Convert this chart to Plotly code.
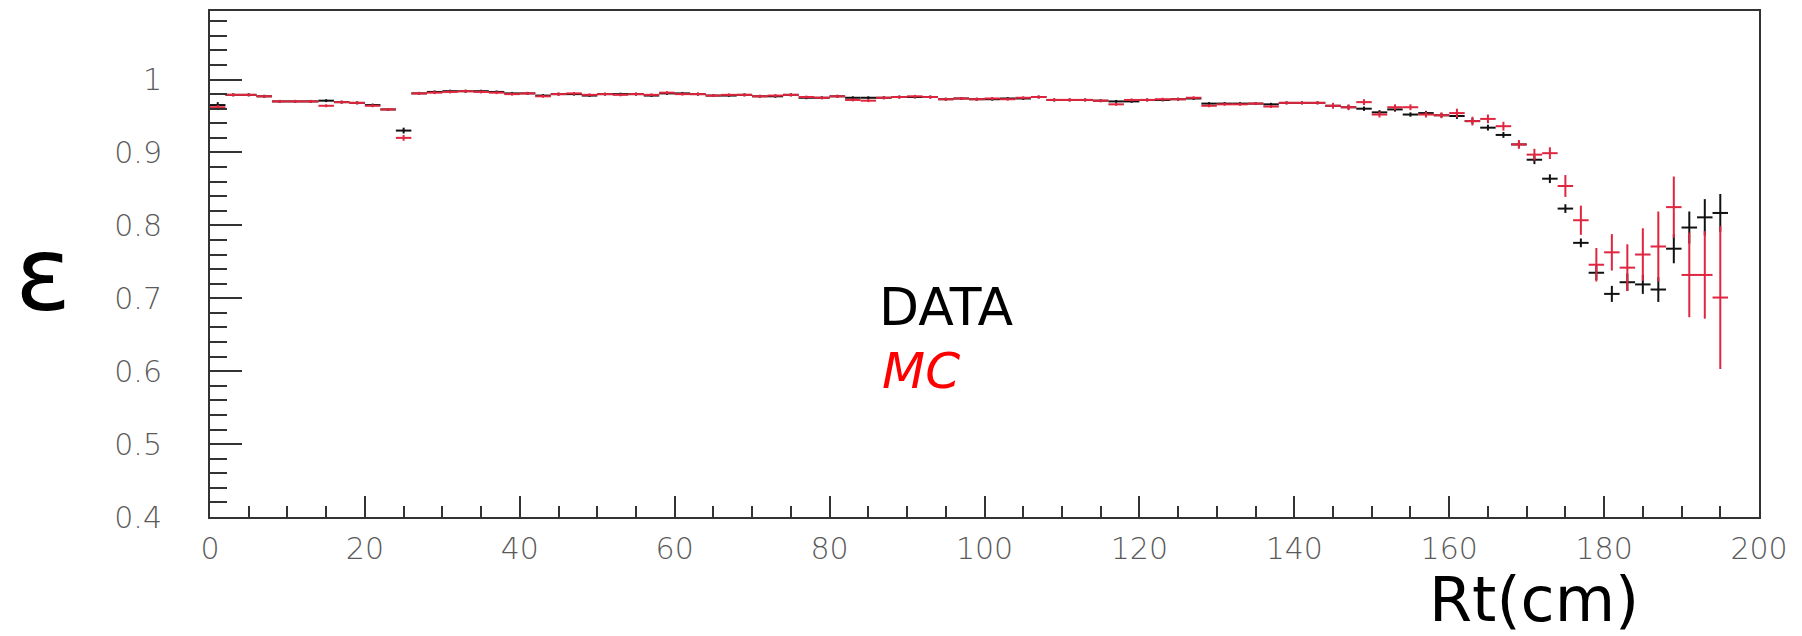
import plotly.graph_objects as go

# Bin centres of the Rt histogram (2 cm bins from 0 to 196 cm)
rt_centers = [1, 3, 5, 7, 9, 11, 13, 15, 17, 19, 21, 23, 25, 27, 29, 31, 33, 35, 37, 39,
              41, 43, 45, 47, 49, 51, 53, 55, 57, 59, 61, 63, 65, 67, 69, 71, 73, 75, 77, 79,
              81, 83, 85, 87, 89, 91, 93, 95, 97, 99, 101, 103, 105, 107, 109, 111, 113, 115, 117, 119,
              121, 123, 125, 127, 129, 131, 133, 135, 137, 139, 141, 143, 145, 147, 149, 151, 153, 155, 157, 159,
              161, 163, 165, 167, 169, 171, 173, 175, 177, 179, 181, 183, 185, 187, 189, 191, 193, 195]
bin_half_width = 1.0

# Efficiency measured in data
eff_data = [0.965, 0.979, 0.979, 0.977, 0.970, 0.970, 0.970, 0.971, 0.969, 0.968,
            0.965, 0.959, 0.930, 0.981, 0.983, 0.984, 0.984, 0.984, 0.983, 0.981,
            0.981, 0.978, 0.980, 0.980, 0.978, 0.980, 0.980, 0.980, 0.978, 0.981,
            0.981, 0.980, 0.978, 0.978, 0.979, 0.977, 0.977, 0.979, 0.975, 0.975,
            0.977, 0.975, 0.975, 0.975, 0.976, 0.976, 0.976, 0.973, 0.974, 0.973,
            0.973, 0.974, 0.974, 0.976, 0.972, 0.972, 0.972, 0.971, 0.970, 0.970,
            0.972, 0.972, 0.973, 0.974, 0.967, 0.967, 0.967, 0.967, 0.966, 0.968,
            0.968, 0.968, 0.964, 0.962, 0.960, 0.955, 0.959, 0.952, 0.954, 0.951,
            0.950, 0.943, 0.934, 0.924, 0.911, 0.890, 0.864, 0.823, 0.776, 0.735,
            0.706, 0.722, 0.719, 0.712, 0.768, 0.797, 0.811, 0.817]
err_data = [0.004, 0.002, 0.002, 0.002, 0.002, 0.002, 0.002, 0.002, 0.002, 0.002,
            0.002, 0.002, 0.004, 0.002, 0.002, 0.002, 0.002, 0.002, 0.002, 0.002,
            0.002, 0.002, 0.002, 0.002, 0.002, 0.002, 0.002, 0.002, 0.002, 0.002,
            0.002, 0.002, 0.002, 0.002, 0.002, 0.002, 0.002, 0.002, 0.002, 0.002,
            0.002, 0.002, 0.002, 0.002, 0.002, 0.002, 0.002, 0.002, 0.002, 0.002,
            0.002, 0.002, 0.002, 0.002, 0.002, 0.002, 0.002, 0.002, 0.002, 0.002,
            0.002, 0.002, 0.002, 0.002, 0.002, 0.002, 0.002, 0.002, 0.002, 0.002,
            0.002, 0.002, 0.003, 0.003, 0.003, 0.003, 0.003, 0.003, 0.003, 0.003,
            0.004, 0.004, 0.004, 0.004, 0.004, 0.006, 0.006, 0.006, 0.006, 0.010,
            0.011, 0.012, 0.013, 0.017, 0.020, 0.022, 0.025, 0.026]

# Efficiency from Monte Carlo simulation
eff_mc = [0.962, 0.979, 0.979, 0.977, 0.970, 0.970, 0.970, 0.964, 0.969, 0.968,
          0.964, 0.959, 0.920, 0.981, 0.982, 0.983, 0.984, 0.983, 0.982, 0.980,
          0.981, 0.977, 0.980, 0.981, 0.979, 0.980, 0.979, 0.980, 0.979, 0.982,
          0.980, 0.980, 0.978, 0.979, 0.979, 0.977, 0.978, 0.979, 0.976, 0.975,
          0.977, 0.972, 0.971, 0.975, 0.976, 0.977, 0.976, 0.973, 0.974, 0.973,
          0.974, 0.973, 0.975, 0.976, 0.972, 0.972, 0.972, 0.971, 0.966, 0.972,
          0.972, 0.973, 0.973, 0.975, 0.964, 0.966, 0.966, 0.967, 0.963, 0.968,
          0.968, 0.968, 0.964, 0.962, 0.969, 0.952, 0.962, 0.962, 0.952, 0.951,
          0.954, 0.943, 0.946, 0.936, 0.911, 0.897, 0.899, 0.854, 0.807, 0.746,
          0.763, 0.742, 0.760, 0.771, 0.825, 0.732, 0.732, 0.701]
err_mc = [0.003, 0.002, 0.002, 0.002, 0.002, 0.002, 0.002, 0.002, 0.002, 0.002,
          0.002, 0.002, 0.004, 0.002, 0.002, 0.002, 0.002, 0.002, 0.002, 0.002,
          0.002, 0.002, 0.002, 0.002, 0.002, 0.002, 0.002, 0.002, 0.002, 0.002,
          0.002, 0.002, 0.002, 0.002, 0.002, 0.002, 0.002, 0.002, 0.002, 0.002,
          0.002, 0.002, 0.002, 0.002, 0.002, 0.002, 0.002, 0.002, 0.002, 0.002,
          0.002, 0.002, 0.002, 0.002, 0.002, 0.002, 0.002, 0.002, 0.002, 0.002,
          0.002, 0.002, 0.002, 0.002, 0.002, 0.002, 0.002, 0.002, 0.002, 0.002,
          0.002, 0.002, 0.004, 0.004, 0.004, 0.004, 0.004, 0.004, 0.004, 0.004,
          0.006, 0.006, 0.006, 0.006, 0.006, 0.008, 0.008, 0.015, 0.020, 0.023,
          0.025, 0.032, 0.036, 0.048, 0.042, 0.058, 0.060, 0.098]

x_ticks = [0, 20, 40, 60, 80, 100, 120, 140, 160, 180, 200]
y_ticks = [0.4, 0.5, 0.6, 0.7, 0.8, 0.9, 1.0]
y_tick_text = ["0.4", "0.5", "0.6", "0.7", "0.8", "0.9", "1"]

DATA_COLOR = "#111111"
MC_COLOR = "#e0253f"


def histo_trace(values, errors, color, name):
    # Histogram-style crosses: vertical stat error, horizontal bar spanning the bin
    return go.Scatter(
        x=rt_centers,
        y=values,
        mode="markers",
        name=name,
        marker=dict(size=1, color=color, opacity=0),
        error_y=dict(type="data", array=errors, visible=True,
                     color=color, thickness=2, width=0),
        error_x=dict(type="constant", value=bin_half_width, visible=True,
                     color=color, thickness=2, width=0),
        showlegend=False,
        hoverinfo="skip",
    )


fig = go.Figure()
fig.add_trace(histo_trace(eff_data, err_data, DATA_COLOR, "DATA"))
fig.add_trace(histo_trace(eff_mc, err_mc, MC_COLOR, "MC"))

tick_font = dict(family="DejaVu Sans, sans-serif", size=30, color="#5a5a5a", weight=300)

fig.update_xaxes(
    range=[0, 200],
    tickmode="array", tickvals=x_ticks, ticktext=[str(v) for v in x_ticks],
    ticks="inside", ticklen=21, tickwidth=2, tickcolor="#333333",
    minor=dict(ticks="inside", ticklen=11, tickwidth=2, tickcolor="#333333", dtick=5, showgrid=False),
    showline=True, linecolor="#333333", linewidth=2, mirror=True,
    showgrid=False, zeroline=False,
    tickfont=tick_font,
    ticklabelstandoff=4,
)
fig.update_yaxes(
    range=[0.4, 1.094],
    tickmode="array", tickvals=y_ticks, ticktext=y_tick_text,
    ticks="inside", ticklen=32, tickwidth=2, tickcolor="#333333",
    minor=dict(ticks="inside", ticklen=17, tickwidth=2, tickcolor="#333333", dtick=0.02, showgrid=False),
    showline=True, linecolor="#333333", linewidth=2, mirror=True,
    showgrid=False, zeroline=False,
    tickfont=tick_font,
    ticklabelstandoff=40,
)

annotations = [
    # Axis titles
    dict(text="ε", xref="paper", yref="paper", x=-0.108, y=0.48,
         xanchor="center", yanchor="middle", showarrow=False,
         font=dict(family="DejaVu Sans, sans-serif", size=104, color="#000000")),
    dict(text="Rt(cm)", xref="paper", yref="paper", x=0.855, y=-0.163,
         xanchor="center", yanchor="middle", showarrow=False,
         font=dict(family="DejaVu Sans, sans-serif", size=62, color="#000000")),
    # Series labels
    dict(text="DATA", xref="x", yref="y", x=95.0, y=0.688,
         xanchor="center", yanchor="middle", showarrow=False,
         font=dict(family="DejaVu Sans, sans-serif", size=52, color="#000000")),
    dict(text="<i>MC</i>", xref="x", yref="y", x=91.8, y=0.600,
         xanchor="center", yanchor="middle", showarrow=False,
         font=dict(family="DejaVu Sans, sans-serif", size=50, color="#ff0000")),
]

fig.update_layout(
    width=1802, height=636,
    margin=dict(l=210, r=43, t=9, b=119),
    paper_bgcolor="#ffffff", plot_bgcolor="#ffffff",
    annotations=annotations,
    showlegend=False,
)

fig.write_html("out.html")
